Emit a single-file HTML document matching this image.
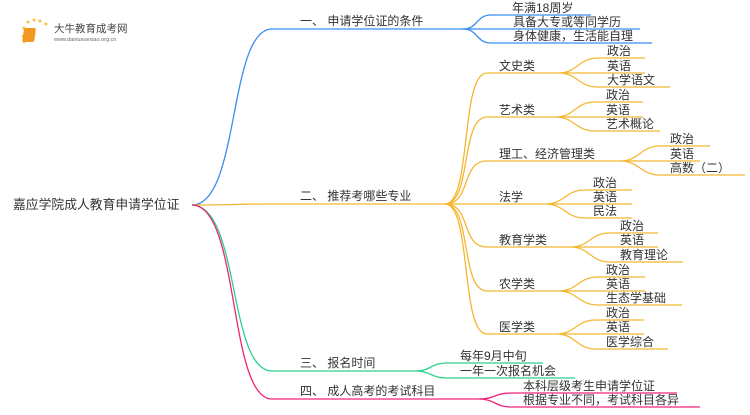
<!DOCTYPE html>
<html><head><meta charset="utf-8"><style>
body{margin:0;background:#fff;width:750px;height:410px;overflow:hidden}
svg text{font-family:"Liberation Sans","Noto Sans CJK SC",sans-serif;font-size:12px;fill:#333}
</style></head><body>
<svg width="750" height="410" viewBox="0 0 750 410" xmlns="http://www.w3.org/2000/svg" fill="none" stroke-width="1.3">
<!-- logo -->
<g stroke="none">
<circle cx="24" cy="28" r="1.5" fill="#f7c341"/><circle cx="28" cy="22" r="1.5" fill="#f7c341"/><circle cx="34" cy="20" r="1.5" fill="#f7c341"/><circle cx="40" cy="21" r="1.5" fill="#f7c341"/><circle cx="46" cy="24" r="1.5" fill="#f7c341"/><circle cx="23" cy="36" r="1.3" fill="#f7c341"/><circle cx="24" cy="42" r="1.3" fill="#f7c341"/>
<rect x="28" y="28" width="12" height="14" rx="2" fill="#f29a1f" transform="skewX(-8)"/>
<text x="54" y="32" style="font-size:10.5px;fill:#444">大牛教育成考网</text>
<text x="54" y="41" style="font-size:5.5px;fill:#666">www.daniuxuexiao.org.cn</text>
</g>
<text x="13" y="209" style="font-size:12.8px">嘉应学院成人教育申请学位证</text>
<!-- level1 -->
<path stroke="#3b8ef0" d="M192 205 C240 205 228 29 272 29 L463 29"/>
<path stroke="#f5b731" d="M192 205 C240 205 228 204 272 204 L445 204"/>
<path stroke="#2ecf8a" d="M192 205 C240 205 228 371 272 371 L415 371"/>
<path stroke="#f0247a" d="M192 205 C240 205 228 399 272 399 L478 399"/>
<text x="300" y="25">一、 申请学位证的条件</text>
<text x="300" y="200">二、 推荐考哪些专业</text>
<text x="300" y="367">三、 报名时间</text>
<text x="300" y="395">四、 成人高考的考试科目</text>
<!-- 一 children -->
<g stroke="#3b8ef0">
<path d="M463 29 C478 29 476 15 491 15 L591 15"/>
<path d="M463 29 L640 29"/>
<path d="M463 29 C478 29 476 43 491 43 L652 43"/>
</g>
<text x="512" y="12">年满18周岁</text>
<text x="513" y="26">具备大专或等同学历</text>
<text x="513" y="40">身体健康，生活能自理</text>
<!-- 二 children -->
<g stroke="#f5b731">
<path d="M445 204 C472 204 460 73 487 73 L558 73"/>
<path d="M445 204 C472 204 460 117 487 117 L555 117"/>
<path d="M445 204 C472 204 460 161 487 161 L620 161"/>
<path d="M445 204 L545 204"/>
<path d="M445 204 C472 204 460 247 487 247 L570 247"/>
<path d="M445 204 C472 204 460 291 487 291 L558 291"/>
<path d="M445 204 C472 204 460 334 487 334 L556 334"/>
<path d="M558 73 C578 73 578 58 598 58 L645 58 M558 73 L645 73 M558 73 C578 73 578 87 598 87 L670 87"/>
<path d="M555 117 C575 117 575 102 595 102 L643 102 M555 117 L643 117 M555 117 C575 117 575 131 595 131 L660 131"/>
<path d="M620 161 C640 161 640 146 660 146 L710 146 M620 161 L700 161 M620 161 C640 161 640 175 660 175 L745 175"/>
<path d="M545 204 C565 204 565 190 585 190 L632 190 M545 204 L632 204 M545 204 C565 204 565 218 585 218 L632 218"/>
<path d="M570 247 C590 247 590 233 610 233 L658 233 M570 247 L658 247 M570 247 C590 247 590 262 610 262 L683 262"/>
<path d="M558 291 C578 291 578 277 598 277 L645 277 M558 291 L645 291 M558 291 C578 291 578 305 598 305 L682 305"/>
<path d="M556 334 C576 334 576 320 596 320 L644 320 M556 334 L644 334 M556 334 C576 334 576 349 596 349 L668 349"/>
</g>
<text x="499" y="70">文史类</text><text x="499" y="114">艺术类</text><text x="499" y="158">理工、经济管理类</text>
<text x="499" y="201">法学</text><text x="499" y="244">教育学类</text><text x="499" y="288">农学类</text><text x="499" y="331">医学类</text>
<text x="607" y="55">政治</text><text x="607" y="70">英语</text><text x="607" y="84">大学语文</text>
<text x="606" y="99">政治</text><text x="606" y="114">英语</text><text x="606" y="128">艺术概论</text>
<text x="670" y="143">政治</text><text x="670" y="158">英语</text><text x="670" y="172">高数（二）</text>
<text x="593" y="187">政治</text><text x="593" y="201">英语</text><text x="593" y="215">民法</text>
<text x="620" y="230">政治</text><text x="620" y="244">英语</text><text x="620" y="259">教育理论</text>
<text x="606" y="274">政治</text><text x="606" y="288">英语</text><text x="606" y="302">生态学基础</text>
<text x="606" y="317">政治</text><text x="606" y="331">英语</text><text x="606" y="346">医学综合</text>
<!-- 三 -->
<g stroke="#2ecf8a">
<path d="M415 371 C432 371 430 363 447 363 L543 363 M415 371 C432 371 430 378 447 378 L575 378"/>
</g>
<text x="460" y="360">每年9月中旬</text><text x="460" y="375">一年一次报名机会</text>
<!-- 四 -->
<g stroke="#f0247a">
<path d="M478 399 C496 399 494 393 512 393 L677 393 M478 399 C496 399 494 407 512 407 L700 407"/>
</g>
<text x="523" y="390">本科层级考生申请学位证</text><text x="523" y="404">根据专业不同，考试科目各异</text>
</svg>
</body></html>
